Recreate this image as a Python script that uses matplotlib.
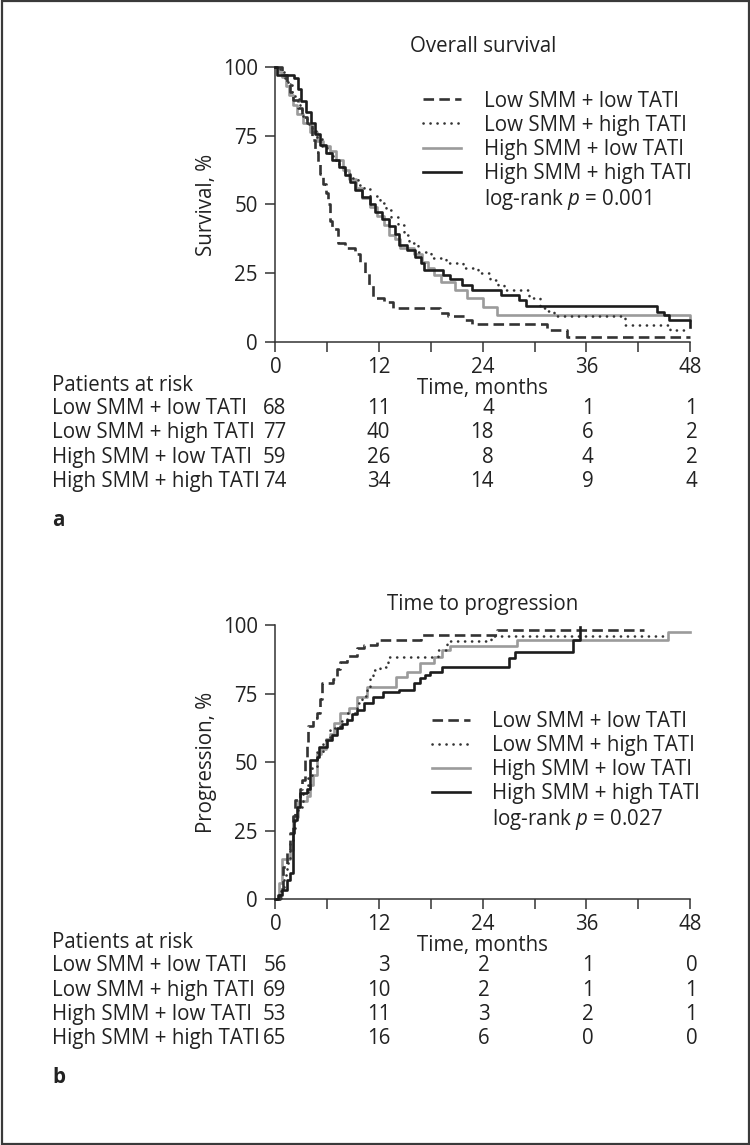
import matplotlib
matplotlib.use("Agg")
import matplotlib.pyplot as plt
import matplotlib.transforms as mtransforms
from matplotlib.lines import Line2D
from matplotlib.patches import Rectangle

FS = 14.8
plt.rcParams["font.family"] = ["Open Sans", "DejaVu Sans"]
plt.rcParams["font.size"] = FS
plt.rcParams["mathtext.fontset"] = "custom"
plt.rcParams["mathtext.it"] = "Open Sans:italic"
plt.rcParams["mathtext.rm"] = "Open Sans"
plt.rcParams["text.color"] = "#222222"
plt.rcParams["axes.labelcolor"] = "#222222"
plt.rcParams["xtick.color"] = "#222222"
plt.rcParams["ytick.color"] = "#222222"

groups = ["Low SMM + low TATI", "Low SMM + high TATI",
          "High SMM + low TATI", "High SMM + high TATI"]
months = [0, 12, 24, 36, 48]

# --- overall survival (%)
os_t_ll = [0, 0.8, 1.3, 1.7, 2.0, 2.6, 3.1, 3.6, 4.2, 4.6, 4.9, 5.2, 5.5, 5.8, 6.1, 6.3,
           6.6, 7.2, 8.0, 9.2, 9.8, 10.4, 10.8, 11.3, 12.6, 13.6, 19.0, 20.0, 22.0, 22.8,
           31.4, 33.8, 48]
os_s_ll = [100, 97, 94, 91, 88, 85, 82, 79.5, 73.5, 69, 65, 61, 57.5, 54, 50, 44,
           41, 36, 34, 32, 29, 25, 20.5, 16, 14.5, 12.3, 10.5, 9.2, 7.8, 6.4,
           4.4, 1.6, 1.6]
os_t_lh = [0, 0.5, 1.0, 1.5, 1.9, 2.3, 2.8, 3.2, 3.6, 4.2, 4.8, 5.4, 6.0, 6.7, 7.3, 8.0,
           8.8, 9.5, 10.2, 11.0, 12.1, 12.8, 13.4, 14.2, 14.9, 15.5, 16.5, 18.0, 19.8,
           21.7, 23.5, 24.8, 25.8, 26.5, 29.3, 30.6, 31.5, 32.2, 40.5, 45.7, 48]
os_s_lh = [100, 98.7, 96, 93.5, 90.9, 88.3, 84.4, 81.8, 79.2, 76.6, 74, 71.4, 68.8, 66.2,
           63.6, 61, 59.7, 57, 55.8, 53.2, 50.6, 48, 45.4, 42.5, 39, 36, 32.7, 30.5, 28.7,
           26.9, 25, 22.5, 20.6, 18.8, 15.9, 12.2, 11.2, 9.4, 6.1, 4.2, 4.2]
os_t_hl = [0, 0.3, 0.8, 1.2, 1.6, 2.0, 2.5, 3.2, 4.0, 4.8, 5.5, 6.3, 7.0, 7.8, 8.5, 9.3,
           10.0, 10.9, 11.8, 12.6, 13.2, 13.8, 14.4, 16.0, 17.0, 17.7, 18.3, 19.2, 20.8,
           22.2, 24.0, 25.6, 48]
os_s_hl = [100, 98.3, 96.6, 93.2, 89.8, 86.4, 83, 79.7, 76.3, 73, 71.2, 69.5, 66.1, 62.7,
           59.3, 55.9, 52.5, 49.2, 45.8, 42.4, 39, 37.3, 34, 32, 29, 27, 24.3, 21.8, 18.8,
           15.9, 12.6, 9.7, 8]
os_t_hh = [0, 0.2, 2.2, 2.6, 3.0, 3.5, 4.1, 4.6, 5.2, 5.9, 6.6, 7.3, 8.0, 8.6, 9.2, 10.0,
           10.9, 11.5, 12.3, 13.2, 13.8, 14.3, 15.2, 16.2, 16.8, 17.2, 19.4, 20.2, 21.6,
           22.8, 26.1, 28.2, 29.0, 44.2, 45.0, 45.6, 48]
os_s_hh = [100, 97.3, 95.9, 91.9, 87.8, 83.8, 79.7, 75.7, 71.6, 68.9, 66.2, 63.5, 60.8,
           58.1, 55.4, 52.7, 50, 47.3, 44.6, 42, 39.2, 35.1, 33.4, 31, 28.5, 26, 24.3, 22.9,
           20.5, 18.8, 17, 15.2, 13, 10.8, 9.7, 7.9, 5.5]

# --- time to progression (%)
tp_t_ll = [0, 0.5, 0.9, 1.3, 1.7, 2.0, 2.3, 2.8, 3.1, 3.4, 3.6, 3.8, 4.3, 4.8, 5.1, 5.4,
           6.7, 7.1, 7.5, 8.3, 9.4, 10.3, 11.8, 16.9, 25.7, 42.7]
tp_p_ll = [0, 3.6, 11.7, 17.9, 24, 30.4, 36, 40, 43.4, 52, 57, 63, 66, 68, 73, 79,
           80.4, 84, 86.5, 88.6, 91.6, 92.9, 94.5, 96.3, 98.2, 98.2]
tp_t_lh = [0, 0.6, 1.0, 1.3, 1.7, 2.0, 2.3, 2.6, 3.2, 3.8, 4.2, 4.8, 5.5, 6.3, 7.5, 8.3,
           9.4, 10.0, 10.6, 11.0, 11.3, 12.1, 13.0, 18.8, 19.9, 25.0, 45.2]
tp_p_lh = [0, 4.3, 8.7, 13, 20.3, 25, 30.4, 33.6, 39, 44.9, 48, 53.6, 58, 62.3, 65, 68,
           71.5, 74, 77.4, 81, 83.6, 84.8, 88.4, 90.9, 94.3, 96.1, 96.1]
tp_t_hl = [0, 0.4, 0.7, 1.7, 2.0, 2.6, 3.6, 4.0, 4.3, 4.8, 5.3, 5.8, 6.3, 6.8, 7.5, 8.5,
           9.4, 10.6, 14.0, 15.2, 16.7, 18.3, 19.3, 20.2, 28.0, 45.4, 48]
tp_p_hl = [0, 5.7, 14.6, 18, 30, 35.8, 37.7, 41.5, 45.3, 52.8, 54.7, 58.5, 60.4, 64.2,
           67.9, 69.8, 73.6, 77.4, 81.1, 83, 86, 88.3, 91, 92.5, 94.5, 97.6, 97.6]
tp_t_hh = [0, 0.3, 0.8, 1.3, 1.7, 2.0, 2.2, 2.5, 2.8, 3.6, 4.0, 4.8, 5.0, 6.0, 6.6, 7.1,
           7.7, 8.3, 8.9, 9.4, 10.2, 11.3, 12.5, 14.3, 16.0, 16.7, 17.3, 17.9, 19.3, 27.0,
           27.7, 34.5, 35.3]
tp_p_hh = [0, 1.5, 3.3, 7, 9.5, 24, 29, 33.6, 38.6, 40, 50.7, 52, 55.5, 58, 60, 62.4,
           63.8, 65.3, 67.5, 69, 71.5, 73.7, 75.5, 76.3, 78.8, 80.7, 81.8, 82.8, 84.7, 88,
           90.1, 94.5, 99.3]

# --- patients at risk
risk_os = [[68, 11, 4, 1, 1], [77, 40, 18, 6, 2], [59, 26, 8, 4, 2], [74, 34, 14, 9, 4]]
risk_tp = [[56, 3, 2, 1, 0], [69, 10, 2, 1, 1], [53, 11, 3, 2, 1], [65, 16, 6, 0, 0]]

styles = [dict(color="#333333", dashes=(4, 2), zorder=3),
          dict(color="#333333", dashes=(0.05, 2.6), dash_capstyle="round", zorder=3),
          dict(color="#9b9b9b", zorder=2),
          dict(color="#1c1c1c", zorder=4)]

fig = plt.figure(figsize=(7.5, 11.45), dpi=100)
AX_H = 274.4  # axes height in px, used to turn pixel offsets into axes fractions


def panel(ax, title, ylabel, curves, risk, pval, letter, leg_xy):
    lines = []
    for (t, v), st in zip(curves, styles):
        ln, = ax.step(t, v, where="post", lw=1.9, clip_on=False, **st)
        lines.append(ln)
    ax.set_xlim(0, 48)
    ax.set_ylim(0, 100)
    ax.set_xticks(months)
    ax.set_xticks([6, 18, 30, 42], minor=True)
    ax.set_yticks([0, 25, 50, 75, 100])
    for s in ("top", "right"):
        ax.spines[s].set_visible(False)
    for s in ("left", "bottom"):
        ax.spines[s].set_linewidth(1.1)
        ax.spines[s].set_color("#333333")
    ax.tick_params(which="both", direction="out", length=7.2, width=1.1, color="#333333")
    ax.tick_params(axis="x", pad=3.5)
    ax.tick_params(axis="y", pad=5.5)
    ax.set_title(title, pad=11, fontsize=FS)
    ax.set_ylabel(ylabel)
    ax.yaxis.set_label_coords(-0.14, 0.5)
    ax.set_xlabel("Time, months")
    ax.xaxis.set_label_coords(0.5, -0.132)

    blank = Line2D([], [], linestyle="none")
    ax.legend(lines + [blank], groups + [f"log-rank $p$ = {pval}"], loc="upper left",
              bbox_to_anchor=leg_xy, frameon=False, borderpad=0, borderaxespad=0,
              handlelength=1.85, handletextpad=1.1, labelspacing=0.15)

    tr_lab = mtransforms.blended_transform_factory(fig.transFigure, ax.transAxes)
    tr_num = mtransforms.blended_transform_factory(ax.transData, ax.transAxes)
    x_lab = 52 / 750
    ax.text(x_lab, -44 / AX_H, "Patients at risk", transform=tr_lab, va="center", ha="left")
    for i, (name, row) in enumerate(zip(groups, risk)):
        y = -(67 + 24.3 * i) / AX_H
        ax.text(x_lab, y, name, transform=tr_lab, va="center", ha="left")
        for j, m in enumerate(months):
            col = [r[j] for r in risk]
            if max(col) >= 10:
                ax.annotate(str(row[j]), (m, y), xycoords=tr_num, xytext=(8, 0),
                            textcoords="offset points", ha="right", va="center")
            else:
                ax.annotate(str(row[j]), (m, y), xycoords=tr_num, xytext=(1, 0),
                            textcoords="offset points", ha="center", va="center")
    ax.text(x_lab, -179 / AX_H, letter, transform=tr_lab, va="center", ha="left",
            fontweight="bold")


ax_a = fig.add_axes([0.3673, 0.7016, 0.5527, 0.2397])
ax_b = fig.add_axes([0.3673, 0.2148, 0.5527, 0.2393])

panel(ax_a, "Overall survival", "Survival, %",
      [(os_t_ll, os_s_ll), (os_t_lh, os_s_lh), (os_t_hl, os_s_hl), (os_t_hh, os_s_hh)],
      risk_os, "0.001", "a", (0.357, 0.915))
panel(ax_b, "Time to progression", "Progression, %",
      [(tp_t_ll, tp_p_ll), (tp_t_lh, tp_p_lh), (tp_t_hl, tp_p_hl), (tp_t_hh, tp_p_hh)],
      risk_tp, "0.027", "b", (0.377, 0.686))

fig.add_artist(Rectangle((0.002, 0.001), 0.996, 0.998, transform=fig.transFigure,
                         fill=False, lw=1.6, ec="#3a3a3a"))

fig.savefig("out.png", dpi=100)
